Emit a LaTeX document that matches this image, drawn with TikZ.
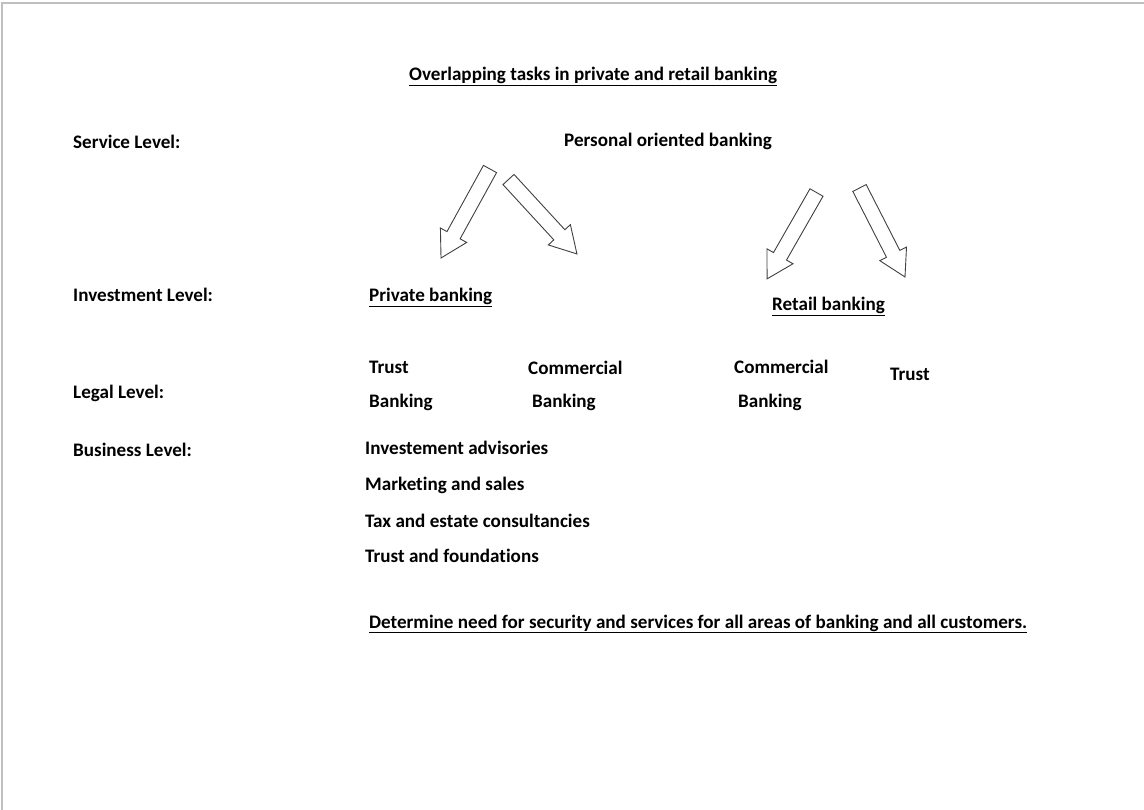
\documentclass[tikz,border=0pt]{standalone}
\usepackage{fontspec}
\setmainfont{Carlito}[Ligatures={NoCommon}]
\usetikzlibrary{calc}
\tikzset{
  lbl/.style={anchor=base west, inner sep=0pt, font=\fontsize{19.1}{23}\selectfont\bfseries},
  arrowline/.style={draw=black!75, line width=0.9pt, line join=miter},
  frameline/.style={draw=black!25, line width=1.2pt}
}
\newcommand\blockarrow[2]{%
  \draw[arrowline] let \p1=($(#2)-(#1)$), \n1={veclen(\x1,\y1)}, \n2={atan2(\y1,\x1)} in
    [shift={(#1)}, rotate=\n2]
    (0pt,-7.5pt) -- ({\n1-26pt},-7.5pt) -- ({\n1-26pt},-15pt) -- ({\n1},0pt)
    -- ({\n1-26pt},15pt) -- ({\n1-26pt},7.5pt) -- (0pt,7.5pt) -- cycle;}
\begin{document}
\begin{tikzpicture}[x=1pt,y=1pt]
\useasboundingbox (0,0) rectangle (1144,-810);
\draw[frameline] (2,-810) -- (2,-3) -- (1144,-3);

\node[lbl] (title) at (409,-81) {\underline{Overlapping tasks in private and retail banking}};
\node[lbl] (svc) at (73,-149) {Service Level:};
\node[lbl] (pob) at (564,-147) {Personal oriented banking};
\node[lbl] (inv) at (73,-302) {Investment Level:};
\node[lbl] (priv) at (369,-302) {\underline{Private banking}};
\node[lbl] (ret) at (772,-311) {\underline{Retail banking}};
\node[lbl] (t1) at (369,-374) {Trust};
\node[lbl] (b1) at (369,-407) {Banking};
\node[lbl] (c2) at (528,-375) {Commercial};
\node[lbl] (b2) at (532,-408) {Banking};
\node[lbl] (c3) at (734,-374) {Commercial};
\node[lbl] (b3) at (738,-407) {Banking};
\node[lbl] (t4) at (890,-381) {Trust};
\node[lbl] (legal) at (73,-399) {Legal Level:};
\node[lbl] (bus) at (73,-456) {Business Level:};
\node[lbl] (ia) at (365,-454) {Investement advisories};
\node[lbl] (ms) at (365,-490) {Marketing and sales};
\node[lbl] (tax) at (365,-527) {Tax and estate consultancies};
\node[lbl] (tf) at (365,-562) {Trust and foundations};
\node[lbl] (det) at (369,-628) {\underline{Determine need for security and services for all areas of banking and all customers.}};

\coordinate (a1s) at (490,-169);   \coordinate (a1e) at (441,-258);
\coordinate (a2s) at (508.5,-179.5); \coordinate (a2e) at (577,-254);
\coordinate (a3s) at (816.5,-192.5); \coordinate (a3e) at (767,-279);
\coordinate (a4s) at (859.5,-188); \coordinate (a4e) at (905,-277);
\blockarrow{a1s}{a1e}
\blockarrow{a2s}{a2e}
\blockarrow{a3s}{a3e}
\blockarrow{a4s}{a4e}
\end{tikzpicture}
\end{document}
